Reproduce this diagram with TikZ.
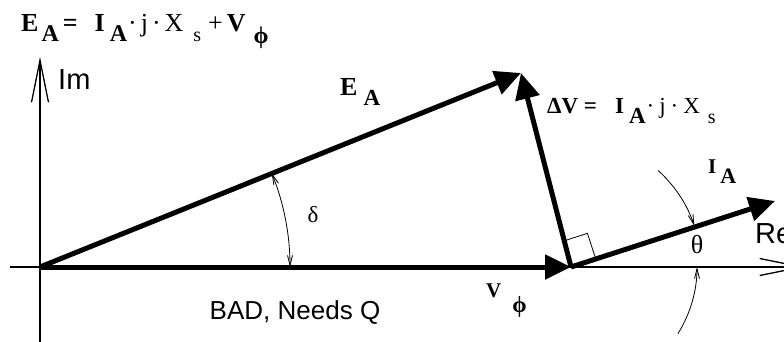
\documentclass[tikz,border=0pt]{standalone}
\usepackage{fontspec}
\setmainfont{Liberation Serif}
\newfontfamily\arialfont{Liberation Sans}
\usetikzlibrary{arrows.meta, calc}
\newcommand{\bsub}[3][22]{\raisebox{-#2}{\fontsize{#1}{#1}\selectfont\bfseries #3}}
\newcommand{\rsub}[3][20]{\raisebox{-#2}{\fontsize{#1}{#1}\selectfont #3}}
\tikzset{
  every picture/.style={line cap=butt},
  phasor/.style={-{Triangle[length=26pt, width=24pt]}, line width=5pt},
  axis/.style={-{Straight Barb[length=42pt, width=17pt, line width=1.3pt]}, line width=1.3pt},
  angarrow/.style={-{Straight Barb[length=10pt, width=5pt]}, line width=0.8pt},
  lbl/.style={inner sep=0pt, anchor=base west, font=\fontsize{21}{24}\selectfont},
  axlbl/.style={inner sep=0pt, anchor=base west, font=\arialfont\fontsize{29}{30}\selectfont},
}
\begin{document}
\begin{tikzpicture}[x=1pt, y=1pt]
  \useasboundingbox (0,0) rectangle (784,341);
  \clip (0,0) rectangle (784,341);
  % points of the phasor triangle
  \coordinate (O) at (40,74);
  \coordinate (V) at (571,74);
  \coordinate (E) at (521,268);
  \coordinate (I) at (775,140);
  \coordinate (imlo) at (40,-5);
  \coordinate (imhi) at (40,284);
  \coordinate (relo) at (10,74);
  \coordinate (rehi) at (805,74);
  % axes
  \draw[axis] (imlo) -- (imhi);
  \draw[axis] (relo) -- (rehi);
  \node[axlbl] (im) at (58,252) {Im};
  \node[axlbl] (re) at (755,98) {Re};
  % phasors
  \draw[phasor] (O) -- (V);
  \draw[phasor] (O) -- (E);
  \draw[phasor] (V) -- (E);
  \draw[phasor] (V) -- (I);
  % right angle
  \begin{scope}[shift={(V)}, rotate=17.9]
    \draw[line width=0.8pt] (26,0) -- (26,27) -- (0,27);
  \end{scope}
  % angles
  \draw[angarrow, {Straight Barb[length=10pt, width=5pt]}-{Straight Barb[length=10pt, width=5pt]}]
    ($(O)+(0:250)$) arc[start angle=0, end angle=22, radius=250];
  \node[lbl, anchor=center, font=\fontsize{23}{24}\selectfont] (delta) at (313,126) {δ};
  \draw[angarrow] ($(V)+(48:130)$) arc[start angle=48, end angle=18.5, radius=130];
  \draw[angarrow] ($(V)+(-32:126)$) arc[start angle=-32, end angle=0, radius=126];
  \node[lbl, anchor=center, font=\fontsize{26}{28}\selectfont] (theta) at (697,96) {θ};
  % labels
  \node[lbl, font=\fontsize{26}{28}\selectfont] (eq) at (21,309)
    {\textbf{E}\hspace{3pt}\bsub[24]{10pt}{A}\hspace{4pt}\textbf{=}\hspace{17pt}\textbf{I}\hspace{5pt}\bsub[24]{10pt}{A}\hspace{1pt}·\hspace{4pt}j\hspace{4pt}·\hspace{4pt}X\hspace{10pt}\rsub{10pt}{s}\hspace{7pt}+\hspace{4pt}\textbf{V}\hspace{8pt}\bsub[24]{12pt}{ϕ}};
  \node[lbl, font=\fontsize{26}{28}\selectfont] (ea) at (340,246) {\textbf{E}\hspace{6pt}\bsub[23]{10pt}{A}};
  \node[lbl, font=\fontsize{23}{26}\selectfont] (dv) at (547,228)
    {\textbf{ΔV =}\hspace{18pt}\textbf{I}\hspace{5pt}\bsub[23]{10pt}{A}\hspace{1pt}·\hspace{5pt}j\hspace{5pt}·\hspace{5pt}X\hspace{8pt}\rsub{10pt}{s}};
  \node[lbl] (ia) at (708,168) {\textbf{I}\hspace{4pt}\bsub[22]{10pt}{A}};
  \node[lbl] (vphi) at (486,44) {\textbf{V}\hspace{11pt}\bsub[23]{15pt}{ϕ}};
  \node[lbl, anchor=base, font=\arialfont\fontsize{26}{28}\selectfont] (bad) at (295,22) {BAD, Needs Q};
\end{tikzpicture}
\end{document}
